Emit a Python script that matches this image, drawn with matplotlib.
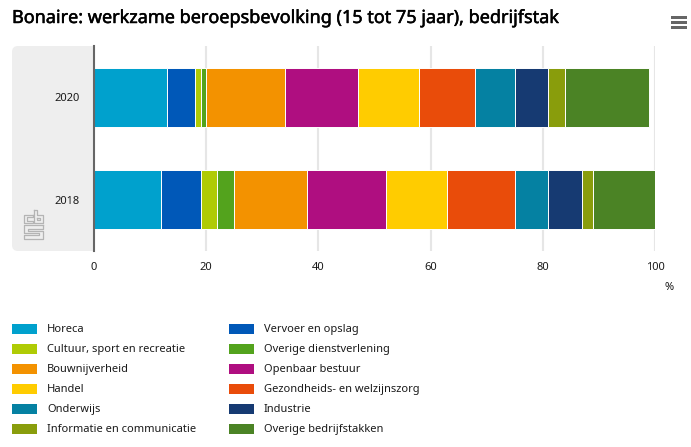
import matplotlib
matplotlib.use("Agg")
import matplotlib.pyplot as plt
import matplotlib.patheffects as path_effects
from matplotlib.lines import Line2D
from matplotlib.patches import FancyBboxPatch, Rectangle
from matplotlib.transforms import Affine2D

W, H = 691, 447

years = ["2018", "2020"]
sectors = [
    "Horeca", "Vervoer en opslag", "Cultuur, sport en recreatie", "Overige dienstverlening",
    "Bouwnijverheid", "Openbaar bestuur", "Handel", "Gezondheids- en welzijnszorg",
    "Onderwijs", "Industrie", "Informatie en communicatie", "Overige bedrijfstakken",
]
values_2020 = [13, 5, 1, 1, 14, 13, 11, 10, 7, 6, 3, 15]
values_2018 = [12, 7, 3, 3, 13, 14, 11, 12, 6, 6, 2, 11]
colors = [
    "#00a1cd", "#0058b8", "#afcb05", "#53a31d", "#f39200", "#af0e80",
    "#ffcc00", "#e94c0a", "#0581a2", "#163a72", "#899d0c", "#4b8325",
]
x_ticks = [0, 20, 40, 60, 80, 100]

plt.rcParams["font.family"] = ["Noto Sans", "DejaVu Sans"]

fig = plt.figure(figsize=(W / 100, H / 100), dpi=100)
px = Affine2D().scale(1, -1).translate(0, H)  # pixel coords, y down

# grey panel behind the year labels, its right side is hidden by the axes
fig.patches.append(FancyBboxPatch((12, 46), 90, 205, boxstyle="round,pad=0,rounding_size=6", linewidth=0,
                                  facecolor="#eeeeee", transform=px, zorder=-1))

ax = fig.add_axes([94 / W, 1 - 251 / H, 561 / W, 205 / H])
ax.set_xlim(0, 100)
ax.set_ylim(-0.5, 1.5)
for tick in x_ticks[1:]:
    ax.axvline(tick, color="#e6e6e6", lw=1.5, zorder=1)

for y, vals in zip([1, 0], [values_2020, values_2018]):
    left = 0
    for val, col in zip(vals, colors):
        ax.barh(y, val, left=left, height=0.58, color=col, edgecolor="white", linewidth=0.7, zorder=2)
        left += val

ax.set_yticks([0, 1], years)
ax.set_xticks(x_ticks)
ax.tick_params(axis="both", length=0, labelsize=8, labelcolor="#1a1a1a")
ax.tick_params(axis="x", pad=8)
ax.tick_params(axis="y", pad=10.5)
for side in ["top", "right", "bottom"]:
    ax.spines[side].set_visible(False)
ax.spines["left"].set_color("#666666")
ax.spines["left"].set_linewidth(1.5)
ax.spines["left"].set_zorder(5)

title = fig.text(12 / W, 1 - 18 / H, "Bonaire: werkzame beroepsbevolking (15 tot 75 jaar), bedrijfstak",
                 fontsize=13, color="#000000", va="center", ha="left")
# the original title is a bit heavier than the regular weight
title.set_path_effects([path_effects.withStroke(linewidth=0.35, foreground="#000000")])
fig.text(669 / W, 1 - 287 / H, "%", fontsize=8, color="#1a1a1a", va="center", ha="center")

# legend, filled row by row
for i, (name, col) in enumerate(zip(sectors, colors)):
    col_x = 12 if i % 2 == 0 else 229
    row_y = 329 + 20 * (i // 2)
    fig.patches.append(Rectangle((col_x, row_y - 5), 25, 10, facecolor=col, linewidth=0, transform=px))
    fig.text((col_x + 35) / W, 1 - (row_y - 1) / H, name, fontsize=8, color="#1a1a1a", va="center_baseline", ha="left")

# menu icon
for y in [15.5, 20.5, 25.5]:
    fig.patches.append(Rectangle((671, y), 16, 3, facecolor="#666666", linewidth=0, transform=px))

# cbs logo, outline strokes
logo_paths = [
    ([33, 24, 24, 33, 33, 27, 27, 33, 33], [215, 215, 223, 223, 221, 221, 217, 217, 215]),
    ([34, 34, 43, 43, 37, 37, 34], [210, 223, 223, 215, 215, 210, 210]),
    ([37, 37, 40, 40, 37], [218, 220, 220, 218, 218]),
    ([43, 24, 24, 39, 39, 24, 24, 43, 43, 28, 28, 43, 43],
     [225, 225, 233, 233, 235, 235, 239, 239, 231, 231, 229, 229, 225]),
]
for xs, ys in logo_paths:
    fig.add_artist(Line2D(xs, ys, color="#b4b4b4", lw=0.9, transform=px))

fig.savefig("out.png", dpi=100)
